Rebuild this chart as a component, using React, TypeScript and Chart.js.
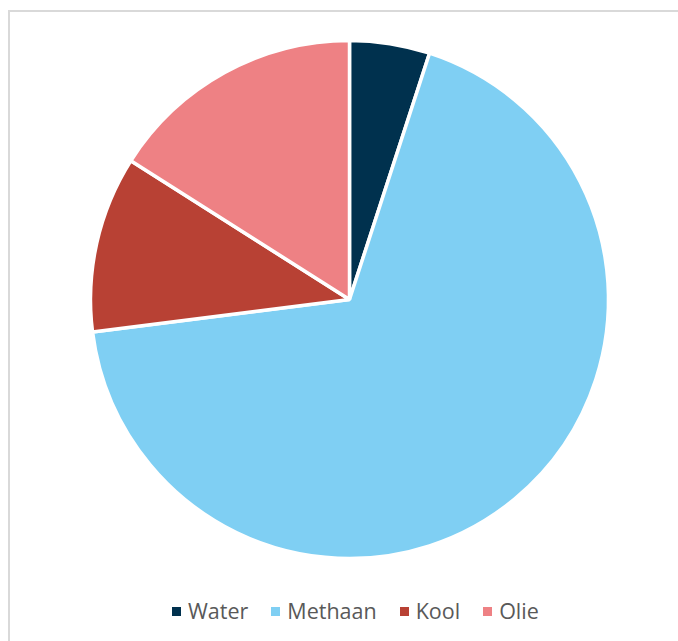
import React, { useEffect, useRef } from "react";
import { Chart, registerables } from "chart.js";

Chart.register(...registerables);

const categories = ["Water", "Methaan", "Kool", "Olie"];
const values = [5, 68, 11, 16];
const colors = ["#00314E", "#7FCFF3", "#B84134", "#EE8184"];

export default function App() {
  const ref = useRef<HTMLCanvasElement | null>(null);

  useEffect(() => {
    if (!ref.current) return;
    const chart = new Chart(ref.current, {
      type: "pie",
      data: {
        labels: categories,
        datasets: [
          {
            data: values,
            backgroundColor: colors,
            borderColor: "#ffffff",
            borderWidth: 3.5,
            radius: 259,
          },
        ],
      },
      options: {
        responsive: false,
        animation: false,
        layout: { padding: { left: 21, right: 0, top: 9, bottom: 0 } },
        plugins: {
          legend: { display: false },
          tooltip: { enabled: false },
        },
      },
    });
    return () => chart.destroy();
  }, []);

  return (
    <div style={{ position: "fixed", left: 0, top: 0, width: 678, height: 641, overflow: "hidden", background: "#fff" }}>
      <div
        style={{
          position: "absolute",
          left: 8,
          top: 10,
          right: 0,
          bottom: 0,
          borderLeft: "2px solid #d9d9d9",
          borderTop: "2px solid #d9d9d9",
        }}
      />
      <canvas ref={ref} width={678} height={590} style={{ position: "absolute", left: 0, top: 0, width: 678, height: 590 }} />
      <div
        style={{
          position: "absolute",
          left: 172,
          top: 599,
          height: 24,
          display: "flex",
          alignItems: "center",
          fontFamily: "'Open Sans', sans-serif",
          fontSize: 21.5,
          color: "#595959",
          whiteSpace: "nowrap",
        }}
      >
        {categories.map((c, i) => (
          <div key={c} style={{ display: "flex", alignItems: "center", marginRight: i < categories.length - 1 ? 23 : 0 }}>
            <span style={{ display: "inline-block", width: 9, height: 9, background: colors[i], marginRight: 7 }} />
            <span style={{ lineHeight: "24px" }}>{c}</span>
          </div>
        ))}
      </div>
    </div>
  );
}
